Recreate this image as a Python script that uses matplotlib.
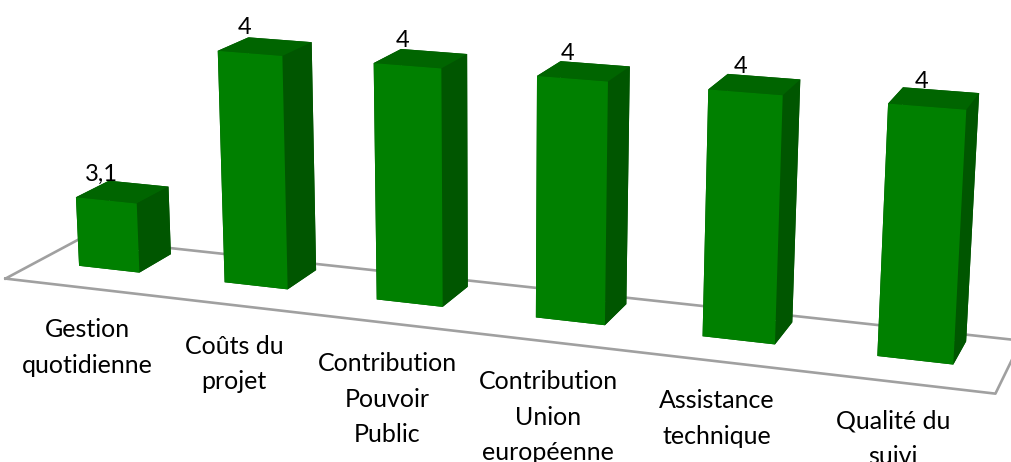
import numpy as np
import matplotlib
matplotlib.use('Agg')
import matplotlib.pyplot as plt
from matplotlib.transforms import offset_copy

# data
categories = ['Gestion\nquotidienne', 'Coûts du\nprojet', 'Contribution\nPouvoir\nPublic',
              'Contribution\nUnion\neuropéenne', 'Assistance\ntechnique', 'Qualité du\nsuivi']
values = [3.1, 4, 4, 4, 4, 4]
value_labels = ['3,1', '4', '4', '4', '4', '4']

# style
plt.rcParams['font.family'] = ['Lato', 'DejaVu Sans']
col_front = '#008000'
col_side = '#005600'
col_top = '#006500'
floor_col = '#a0a0a0'

z_floor = 2.7      # base of the value axis
z_top = 4.1
bar_w = 0.42       # bar width in category units
depth = 0.93       # floor depth
bar_y0 = 0.39      # where the bars start in depth

fig = plt.figure(figsize=(10.12, 4.62), dpi=100)
ax = fig.add_axes([-0.026, -0.517, 1.0, 2.19], projection='3d', computed_zorder=False)
ax.set_proj_type('persp', focal_length=0.45)
ax.view_init(elev=15, azim=-70)
ax.set_xlim(-0.5, len(values) - 0.5)
ax.set_ylim(0, depth)
ax.set_zlim(z_floor, z_top)
ax.set_box_aspect((len(values), depth, (z_top - z_floor) * 1.104), zoom=1.038)
ax.set_axis_off()

# floor outline
fx = [-0.5, len(values) - 0.5, len(values) - 0.5, -0.5, -0.5]
fy = [0, 0, depth, depth, 0]
ax.plot(fx, fy, [z_floor] * 5, color=floor_col, lw=1.9, zorder=1, clip_on=False)

x = np.arange(len(values))
vals = np.array(values)
# face order of bar3d: -z, +z, -y, +y, -x, +x
face_cols = [col_side, col_top, col_front, col_side, col_side, col_side] * len(values)
bars = ax.bar3d(x - bar_w / 2, np.full(len(values), bar_y0), np.full(len(values), z_floor),
                bar_w, bar_w, vals - z_floor, color=face_cols, shade=False, zorder=2)
bars.set_clip_on(False)

# labels hang off the front edge of each bar, shifted in pixels
val_tr = offset_copy(ax.transData, fig=fig, x=-5, y=19, units='dots')
cat_tr = offset_copy(ax.transData, fig=fig, x=-22, y=-49, units='dots')
for i, v in enumerate(values):
    ax.text(x[i], bar_y0, v, value_labels[i], ha='center', va='baseline',
            fontsize=17, zorder=5, clip_on=False, transform=val_tr)
    ax.text(x[i], bar_y0, z_floor, categories[i], ha='center', va='top',
            fontsize=18, linespacing=1.65, zorder=5, clip_on=False, transform=cat_tr)

fig.savefig('out.png', dpi=100)
